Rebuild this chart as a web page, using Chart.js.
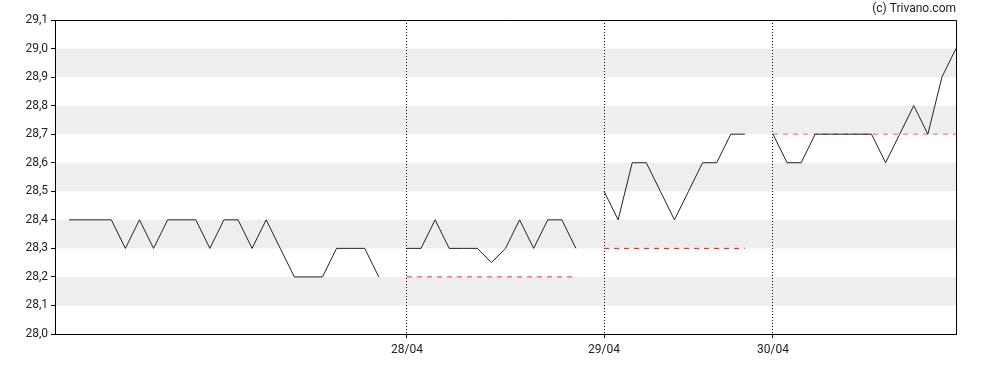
<!DOCTYPE html>
<html>
<head>
<meta charset="utf-8">
<script src="https://cdn.jsdelivr.net/npm/chart.js@4/dist/chart.umd.min.js"></script>
<style>
    body { margin: 0; background: #fff; }
    #wrap { width: 988px; height: 370px; }
</style>
</head>
<body>
<div id="wrap"><canvas id="grafico" width="988" height="370"></canvas></div>
<script>
    // cotações por dia (uma por slot)
    const dia1 = [28.4, 28.4, 28.4, 28.4, 28.3, 28.4, 28.3, 28.4, 28.4, 28.4, 28.3, 28.4, 28.4, 28.3, 28.4, 28.3, 28.2, 28.2, 28.2, 28.3, 28.3, 28.3, 28.2];
    const dia2 = [28.3, 28.3, 28.4, 28.3, 28.3, 28.3, 28.25, 28.3, 28.4, 28.3, 28.4, 28.4, 28.3];
    const dia3 = [28.5, 28.4, 28.6, 28.6, 28.5, 28.4, 28.5, 28.6, 28.6, 28.7, 28.7];
    const dia4 = [28.7, 28.6, 28.6, 28.7, 28.7, 28.7, 28.7, 28.7, 28.6, 28.7, 28.8, 28.7, 28.9, 29.0];
    const inicioDias = [0, 24, 38, 50];       // slot onde cada dia começa
    const fechoAnterior = [28.2, 28.3, 28.7]; // linha tracejada dos dias 2..4
    const corFecho = ['#ee2e2e', '#c42424', '#f26a6a'];
    const tickPos = [24, 38, 50];
    const tickLabels = ['28/04', '29/04', '30/04'];

    const dias = [dia1, dia2, dia3, dia4];
    var pontos = [];
    dias.forEach((d, i) => {
        d.forEach((v, k) => pontos.push({ x: inicioDias[i] + k, y: v }));
        if (i < dias.length - 1) pontos.push({ x: inicioDias[i] + d.length, y: null });
    });

    var datasets = [{
        data: pontos,
        borderColor: '#222',
        borderWidth: 1,
        pointRadius: 0,
        tension: 0,
        spanGaps: false
    }];
    fechoAnterior.forEach((v, i) => {
        const d = dias[i + 1];
        const ini = inicioDias[i + 1];
        datasets.push({
            data: [{ x: ini, y: v }, { x: ini + d.length - 1, y: v }],
            borderColor: corFecho[i],
            borderWidth: 1,
            borderDash: [5, 5],
            pointRadius: 0
        });
    });

    const faixas = {
        id: 'faixas',
        beforeDraw(chart) {
            const ctx = chart.ctx, a = chart.chartArea, y = chart.scales.y;
            ctx.save();
            ctx.fillStyle = '#eeeeee';
            y.ticks.forEach((t, i) => {
                if (i % 2 === 1 && i < y.ticks.length - 1) {
                    const y1 = y.getPixelForValue(t.value);
                    const y2 = y.getPixelForValue(y.ticks[i + 1].value);
                    ctx.fillRect(a.left, y2, a.right - a.left, y1 - y2);
                }
            });
            ctx.restore();
        },
        afterDraw(chart) {
            const ctx = chart.ctx, a = chart.chartArea;
            ctx.save();
            ctx.strokeStyle = '#000';
            ctx.lineWidth = 1;
            ctx.beginPath();
            ctx.moveTo(a.left, a.top + 0.5);
            ctx.lineTo(a.right + 0.5, a.top + 0.5);
            ctx.lineTo(a.right + 0.5, a.bottom);
            ctx.stroke();
            ctx.fillStyle = '#222';
            ctx.font = '12px Roboto';
            ctx.textAlign = 'right';
            ctx.textBaseline = 'middle';
            ctx.fillText('(c) Trivano.com', a.right, 9);
            ctx.restore();
        }
    };

    new Chart(document.getElementById('grafico'), {
        type: 'line',
        data: { datasets: datasets },
        plugins: [faixas],
        options: {
            responsive: false,
            animation: false,
            layout: { padding: { top: 20, right: 32, left: 0, bottom: 0 } },
            plugins: { legend: { display: false }, tooltip: { enabled: false } },
            scales: {
                x: {
                    type: 'linear',
                    min: -1,
                    max: 63,
                    afterBuildTicks: s => { s.ticks = tickPos.map(v => ({ value: v })); },
                    afterFit: s => { s.height = 36; },
                    ticks: {
                        autoSkip: false,
                        maxRotation: 0,
                        padding: 5,
                        color: '#222',
                        font: { family: 'Roboto', size: 12 },
                        callback: v => tickLabels[tickPos.indexOf(v)]
                    },
                    grid: {
                        color: '#000',
                        tickLength: 4,
                        tickColor: '#000',
                        tickBorderDash: []
                    },
                    border: { display: true, color: '#000', width: 1, dash: [1, 2] }
                },
                y: {
                    min: 28.0,
                    max: 29.1,
                    afterFit: s => { s.width = 55; },
                    ticks: {
                        stepSize: 0.1,
                        padding: 3,
                        color: '#222',
                        font: { family: 'Roboto', size: 12 },
                        callback: v => v.toFixed(1).replace('.', ',')
                    },
                    grid: {
                        drawOnChartArea: false,
                        tickLength: 4,
                        tickColor: '#000'
                    },
                    border: { display: true, color: '#000', width: 1 }
                }
            }
        }
    });
</script>
</body>
</html>
